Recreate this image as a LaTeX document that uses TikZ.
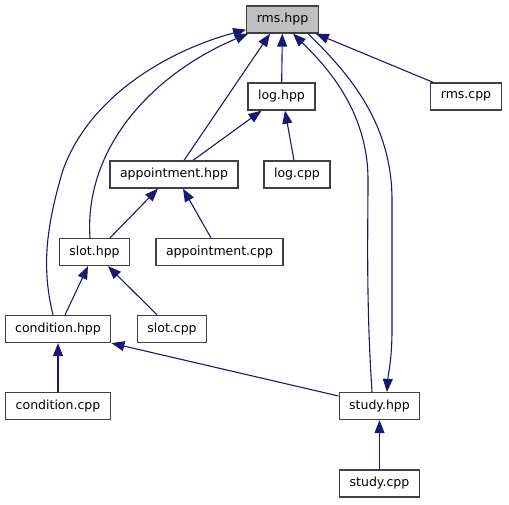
\documentclass[tikz,border=0pt]{standalone}
\usepackage{fontspec}
\setmainfont{DejaVu Sans}
\usepackage{tikz}
\usetikzlibrary{arrows.meta}
\definecolor{edgeblue}{HTML}{191970}
\definecolor{rootfill}{HTML}{BFBFBF}
\definecolor{boxline}{HTML}{404040}

\begin{document}
\begin{tikzpicture}[x=1pt, y=-1pt, font=\fontsize{12.5}{14}\selectfont,
  filebox/.style={draw=boxline, line width=1.3pt, fill=white,
                  minimum height=27pt, inner xsep=10pt, inner ysep=0pt},
  dep/.style={edgeblue, line width=1.1pt, -{Triangle[length=13pt, width=10pt]}}]
\useasboundingbox (0,0) rectangle (509,504);

\node[filebox, fill=rootfill] (rmsh) at (282.5,19.5) {rms.hpp};
\node[filebox] (logh)    at (281.5,96.5)  {log.hpp};
\node[filebox] (rmscpp)  at (466,96.5)    {rms.cpp};
\node[filebox] (apph)    at (174,174.5)   {appointment.hpp};
\node[filebox] (logcpp)  at (297,174.5)   {log.cpp};
\node[filebox] (sloth)   at (94.5,252)    {slot.hpp};
\node[filebox] (appcpp)  at (219.5,252)   {appointment.cpp};
\node[filebox] (condh)   at (58,329)      {condition.hpp};
\node[filebox] (slotcpp) at (172,329)     {slot.cpp};
\node[filebox] (condcpp) at (58,406)      {condition.cpp};
\node[filebox] (studyh)  at (379.5,406)   {study.hpp};
\node[filebox] (studycpp) at (379.5,483.5) {study.cpp};

\draw[dep] (logh) -- (rmsh);
\draw[dep] ([xshift=3pt]rmscpp.north west) -- ([xshift=-3pt]rmsh.south east);
\draw[dep] ([xshift=10pt]apph.north) -- ([xshift=-12.5pt]rmsh.south);
\draw[dep] ([xshift=19pt]apph.north) -- ([xshift=-20pt]logh.south);
\draw[dep] ([xshift=-3pt]logcpp.north) -- ([xshift=3.5pt]logh.south);
\draw[dep] ([xshift=15.5pt]sloth.north) -- ([xshift=-16pt]apph.south);
\draw[dep] ([xshift=-8.5pt]appcpp.north) -- ([xshift=9pt]apph.south);
\draw[dep] ([xshift=7pt]condh.north) -- ([xshift=-6.5pt]sloth.south);
\draw[dep] ([xshift=-15pt]slotcpp.north) -- ([xshift=13.5pt]sloth.south);
\draw[dep] (condcpp) -- (condh);
\draw[dep] ([yshift=10pt]studyh.west) -- (condh.south east);
\draw[dep] (studycpp) -- (studyh);

% long bends up to rms.hpp
\draw[dep] ([xshift=-5pt]condh.north) .. controls (42,270) and (45,230) .. (63,170)
  .. controls (90,95) and (170,50) .. ([yshift=4pt]rmsh.south west);
\draw[dep] ([xshift=-4.5pt]sloth.north) .. controls (84,150) and (150,75) .. ([xshift=2pt]rmsh.south west);
\draw[dep] ([xshift=-7.5pt]studyh.north) .. controls (366,300) and (368,230) .. (368,180)
  .. controls (368,110) and (325,65) .. ([xshift=10.5pt]rmsh.south);
\draw[dep] ([xshift=25.5pt]rmsh.south) .. controls (345,70) and (392,120) .. (392,200)
  -- (392,330) .. controls (392,360) and (388,375) .. ([xshift=7.5pt]studyh.north);
\end{tikzpicture}
\end{document}
